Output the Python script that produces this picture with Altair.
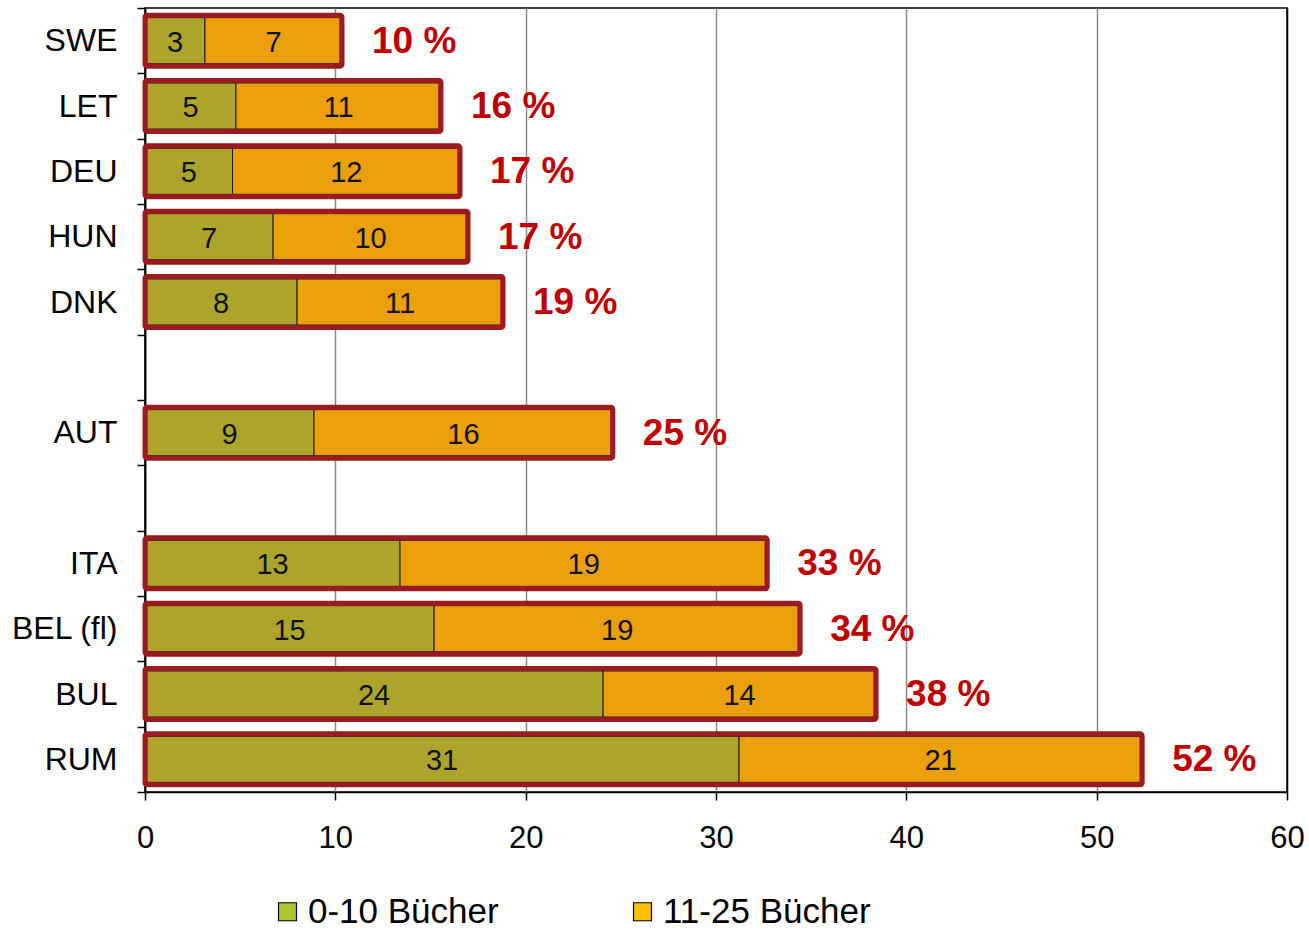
import altair as alt
import pandas as pd

# Rows of the chart, top to bottom; the "_gap" rows stay empty as separators
row_order = ["SWE", "LET", "DEU", "HUN", "DNK", "_gap1", "AUT", "_gap2",
             "ITA", "BEL (fl)", "BUL", "RUM"]
countries = ["SWE", "LET", "DEU", "HUN", "DNK", "AUT", "ITA", "BEL (fl)", "BUL", "RUM"]

# Share of pupils (%) by number of books at home
books_0_10 = [3.15, 4.78, 4.6, 6.73, 7.99, 8.88, 13.4, 15.19, 24.07, 31.21]
books_11_25 = [7.2, 10.77, 11.95, 10.24, 10.82, 15.7, 19.29, 19.23, 14.34, 21.18]

groups = ["0-10 Bücher", "11-25 Bücher"]
bar_colors = ["#ADA52B", "#EB9F0A"]
legend_colors = ["#A9C62F", "#FFC000"]

FONT = "Liberation Sans"

seg_rows = []
for land, a, b in zip(countries, books_0_10, books_11_25):
    seg_rows.append({"land": land, "gruppe": groups[0], "rang": 0, "wert": a})
    seg_rows.append({"land": land, "gruppe": groups[1], "rang": 1, "wert": b})
seg = pd.DataFrame(seg_rows)
tot = pd.DataFrame({"land": countries,
                    "summe": [a + b for a, b in zip(books_0_10, books_11_25)]})

y_enc = alt.Y(
    "land:N",
    scale=alt.Scale(domain=row_order, paddingInner=0, paddingOuter=0),
    axis=alt.Axis(
        title=None, labelFont=FONT, labelFontSize=32, labelColor="black",
        labelPadding=20, tickBand="extent", tickSize=8, tickColor="black",
        tickWidth=1.5, domainColor="black", domainWidth=1.5, grid=False,
        labelExpr="indexof(datum.label, '_') == 0 ? '' : datum.label",
    ),
)

x_scale = alt.Scale(domain=[0, 60], nice=False)
x_axis = alt.Axis(
    title=None, values=[0, 10, 20, 30, 40, 50, 60], labelFont=FONT,
    labelFontSize=31, labelColor="black", labelPadding=23, labelFlush=False,
    tickSize=8, tickColor="black", tickWidth=1.5, domainColor="black",
    domainWidth=1.5, grid=True, gridWidth=1.5,
    gridColor={"condition": {"test": "datum.value == 0 || datum.value == 60",
                             "value": "black"},
               "value": "#8c8c8c"},
)

bars = alt.Chart(seg).mark_bar(size=46, stroke="#1a1a1a", strokeWidth=1).encode(
    x=alt.X("wert:Q", stack="zero", scale=x_scale, axis=x_axis),
    y=y_enc,
    color=alt.Color("gruppe:N", scale=alt.Scale(domain=groups, range=bar_colors),
                    legend=None),
    order=alt.Order("rang:Q"),
)

outline = alt.Chart(tot).mark_bar(
    size=51, fillOpacity=0, stroke="#9B1B20", strokeWidth=5, cornerRadius=2
).encode(x=alt.X("summe:Q", scale=x_scale), y=y_enc)

seg_labels = alt.Chart(seg).transform_stack(
    stack="wert", groupby=["land"], as_=["x0", "x1"],
    sort=[alt.SortField("rang", order="ascending")],
).transform_calculate(
    mid="(datum.x0 + datum.x1) / 2",
    lbl="format(datum.wert, '.0f')",
).mark_text(font=FONT, fontSize=29, color="#111111", dy=2).encode(
    x=alt.X("mid:Q", scale=x_scale), y=y_enc, text="lbl:N"
)

pct_labels = alt.Chart(tot).transform_calculate(
    pct="format(datum.summe, '.0f') + ' %'"
).mark_text(
    font=FONT, fontSize=37, fontWeight="bold", color="#C00000",
    align="left", dx=30, dy=1
).encode(x=alt.X("summe:Q", scale=x_scale), y=y_enc, text="pct:N")

legend_layer = alt.Chart(pd.DataFrame({"gruppe": groups})).mark_square(
    opacity=0, filled=True
).encode(
    color=alt.Color(
        "gruppe:N",
        scale=alt.Scale(domain=groups, range=legend_colors),
        legend=alt.Legend(
            title=None, orient="none", legendX=125, legendY=886,
            direction="horizontal", symbolType="square", symbolSize=324,
            symbolOpacity=1, symbolStrokeColor="#000000", symbolStrokeWidth=1.2,
            labelFont=FONT, labelFontSize=35, labelColor="black", labelLimit=500,
            labelOffset=3, columnPadding=126, padding=0,
        ),
    )
)

chart = alt.layer(bars, outline, seg_labels, pct_labels, legend_layer).resolve_scale(
    color="independent"
).properties(
    width=1142, height=784,
    autosize=alt.AutoSizeParams(type="none"),
    padding={"left": 145, "top": 8, "right": 22, "bottom": 140},
).configure_view(stroke="black", strokeWidth=1.5)

chart.save("out.html", embed_options={"renderer": "svg", "actions": False})
